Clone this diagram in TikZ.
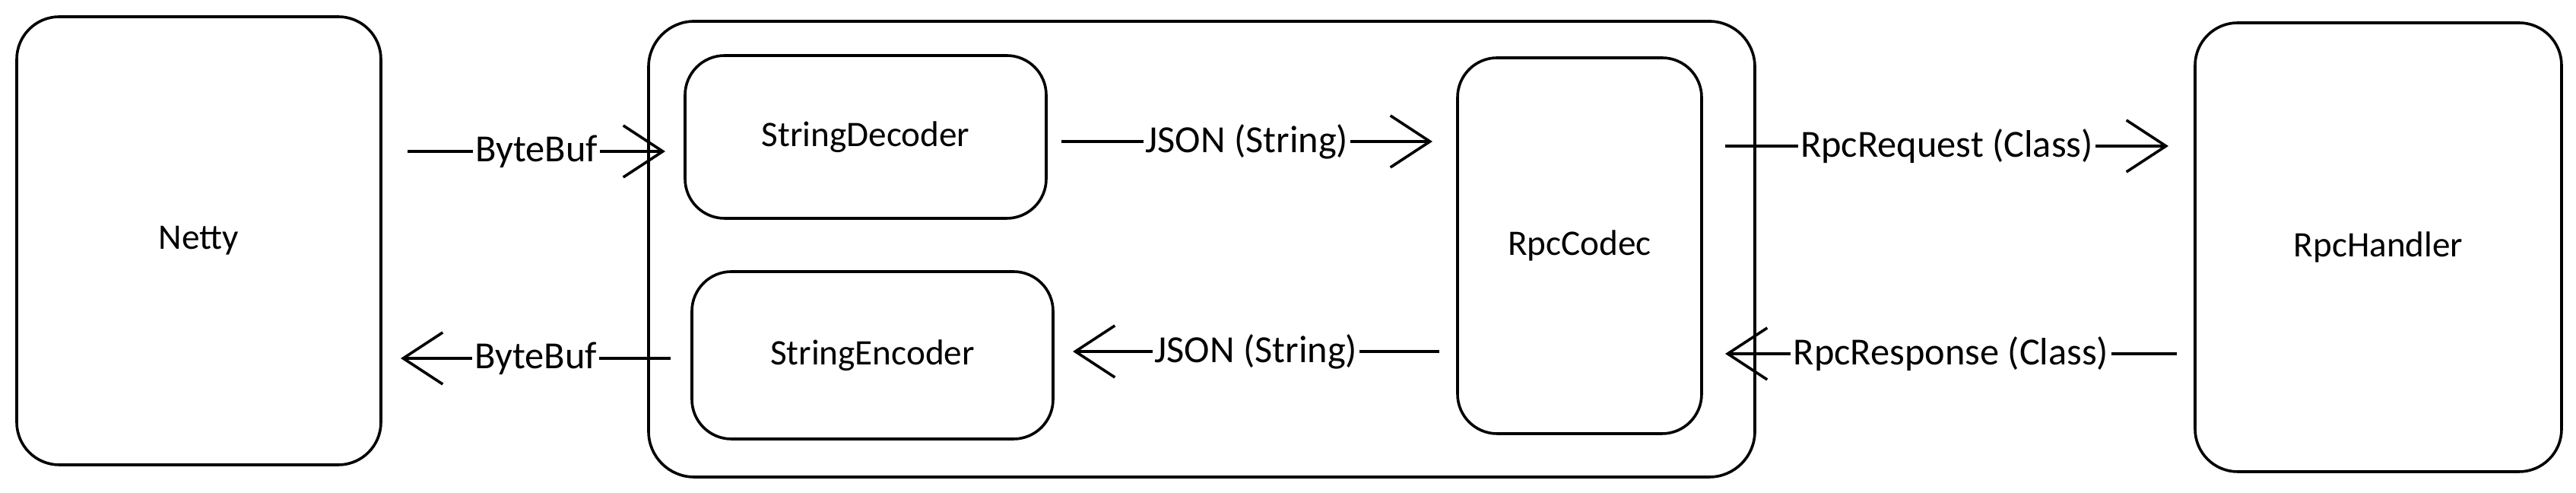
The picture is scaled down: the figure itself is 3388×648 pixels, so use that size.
\documentclass[tikz,border=0pt]{standalone}
\usepackage{fontspec}
\setmainfont{Carlito}
\usetikzlibrary{arrows.meta}
\begin{document}
\begin{tikzpicture}[x=0.25pt,y=-0.25pt,
  box/.style={draw=black, line width=0.9pt, rounded corners=13pt, align=center, font=\fontsize{11.8}{14}\selectfont, inner sep=0pt},
  flow/.style={draw=black, line width=0.9pt, -{Straight Barb[length=13pt,width=17pt,line width=0.9pt]}},
  lbl/.style={fill=white, inner sep=0.8pt, font=\fontsize{12.6}{15}\selectfont}]
\useasboundingbox (0,0) rectangle (3388,648);
% boxes
\node[box, minimum width=363.75pt, minimum height=149.75pt, rounded corners=15pt] (outer) at (1580.5,327.5) {};
\node[box, minimum width=119.75pt, minimum height=147.25pt, rounded corners=14pt] (netty) at (261.5,316.5) {Netty};
\node[box, minimum width=118.75pt, minimum height=53.5pt] (dec) at (1138.5,180) {StringDecoder};
\node[box, minimum width=118.75pt, minimum height=55pt] (enc) at (1147.5,467) {StringEncoder};
\node[box, minimum width=80.25pt, minimum height=123.5pt] (codec) at (2077.5,323) {RpcCodec};
\node[box, minimum width=120.5pt, minimum height=147.5pt, rounded corners=14pt] (handler) at (3128,325) {RpcHandler};
% arrow ends
\coordinate (a1s) at (536,199);  \coordinate (a1e) at (875,199);
\coordinate (a2s) at (882,471);  \coordinate (a2e) at (527,471);
\coordinate (a3s) at (1396,186); \coordinate (a3e) at (1884,186);
\coordinate (a4s) at (1893,462); \coordinate (a4e) at (1411,462);
\coordinate (a5s) at (2269,192); \coordinate (a5e) at (2852,192);
\coordinate (a6s) at (2863,465); \coordinate (a6e) at (2269,465);
% arrows
\draw[flow] (a1s) -- node[lbl] {ByteBuf} (a1e);
\draw[flow] (a2s) -- node[lbl] {ByteBuf} (a2e);
\draw[flow] (a3s) -- node[lbl] {JSON (String)} (a3e);
\draw[flow] (a4s) -- node[lbl] {JSON (String)} (a4e);
\draw[flow] (a5s) -- node[lbl] {RpcRequest (Class)} (a5e);
\draw[flow] (a6s) -- node[lbl] {RpcResponse (Class)} (a6e);
\end{tikzpicture}
\end{document}
